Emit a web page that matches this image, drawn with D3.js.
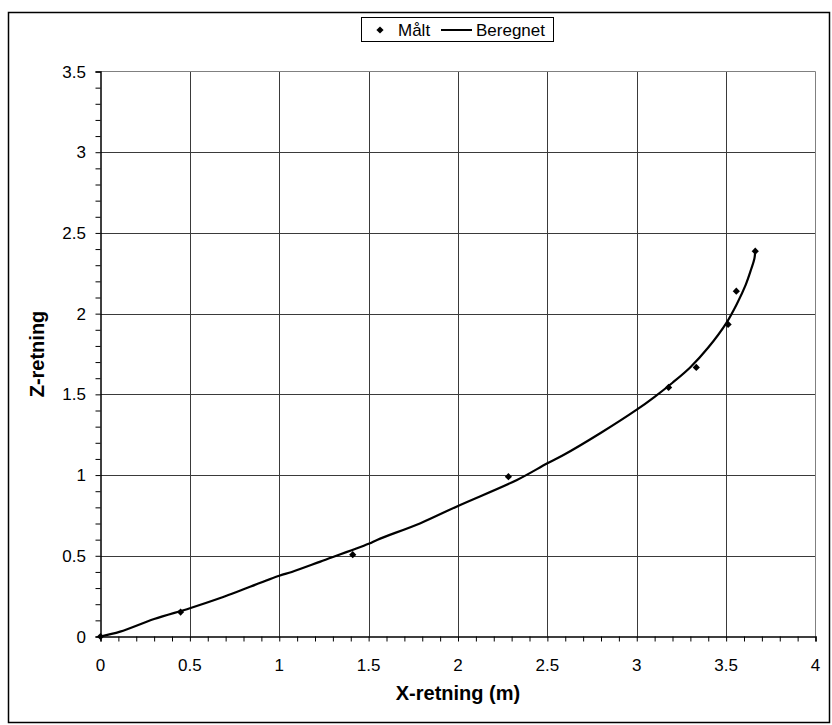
<!DOCTYPE html>
<html>
<head>
<meta charset="utf-8">
<script src="https://cdn.jsdelivr.net/npm/d3@7"></script>
<style>
  html, body { margin: 0; padding: 0; background: #fff; }
  svg { display: block; font-family: Arial, "Liberation Sans", sans-serif; }
</style>
</head>
<body>
<svg id="chart" width="832" height="725"></svg>
<script>
// ---- Data ----
const measuredX = [0, 0.448, 1.411, 2.282, 3.178, 3.333, 3.511, 3.557, 3.663];
const measuredZ = [0, 0.151, 0.507, 0.990, 1.543, 1.667, 1.933, 2.139, 2.387];

const computedX = [0, 0.11, 0.30, 0.50, 0.67, 1.00, 1.07, 1.23, 1.50, 1.55, 1.79, 2.00, 2.33, 2.50, 2.59, 2.80, 3.00, 3.10, 3.20, 3.30, 3.40, 3.50, 3.56, 3.61, 3.64, 3.658, 3.663];
const computedZ = [0, 0.03, 0.108, 0.175, 0.238, 0.376, 0.40, 0.464, 0.574, 0.60, 0.702, 0.809, 0.970, 1.073, 1.124, 1.262, 1.405, 1.485, 1.572, 1.668, 1.790, 1.940, 2.060, 2.180, 2.275, 2.34, 2.39];

const xTicks = [0, 0.5, 1, 1.5, 2, 2.5, 3, 3.5, 4];
const yTicks = [0, 0.5, 1, 1.5, 2, 2.5, 3, 3.5];
const xTickLabels = ["0", "0.5", "1", "1.5", "2", "2.5", "3", "3.5", "4"];
const yTickLabels = ["0", "0.5", "1", "1.5", "2", "2.5", "3", "3.5"];
const seriesNames = ["Målt", "Beregnet"];
const xTitle = "X-retning (m)";
const yTitle = "Z-retning";

// ---- Layout ----
const svg = d3.select("#chart");
const x = d3.scaleLinear().domain([0, 4]).range([100.5, 815.5]);
const y = d3.scaleLinear().domain([0, 3.5]).range([636.5, 71.5]);

// outer border
svg.append("rect").attr("x", 8.5).attr("y", 12.5).attr("width", 821).attr("height", 710)
  .attr("fill", "none").attr("stroke", "#000").attr("stroke-width", 1.5);

// gridlines
const grid = svg.append("g");
grid.selectAll("line.v").data(xTicks.slice(1, -1)).join("line")
  .attr("x1", d => Math.round(x(d)) + 0.5).attr("x2", d => Math.round(x(d)) + 0.5)
  .attr("y1", y(3.5)).attr("y2", y(0))
  .attr("stroke", "#3a3a3a").attr("stroke-width", 1);
grid.selectAll("line.h").data(yTicks.slice(1, -1)).join("line")
  .attr("y1", d => Math.round(y(d)) + 0.5).attr("y2", d => Math.round(y(d)) + 0.5)
  .attr("x1", x(0)).attr("x2", x(4))
  .attr("stroke", "#3a3a3a").attr("stroke-width", 1);

// plot area border (top & right gray)
svg.append("line").attr("x1", x(0)).attr("x2", x(4)).attr("y1", y(3.5)).attr("y2", y(3.5))
  .attr("stroke", "#808080");
svg.append("line").attr("x1", x(4)).attr("x2", x(4)).attr("y1", y(3.5)).attr("y2", y(0))
  .attr("stroke", "#808080");

// minor ticks
const xMinor = d3.range(0, 41).map(i => i / 10);
const yMinor = d3.range(0, 36).map(i => i / 10);

const xAxis = d3.axisBottom(x).tickValues(xMinor).tickSize(5).tickFormat("");
const gx = svg.append("g").attr("transform", `translate(0,${y(0)})`).call(xAxis);
gx.select(".domain").attr("stroke", "#000").attr("stroke-width", 1.5);
gx.selectAll(".tick line").attr("stroke", "#000");

const yAxis = d3.axisLeft(y).tickValues(yMinor).tickSize(5).tickFormat("");
const gy = svg.append("g").attr("transform", `translate(${x(0)},0)`).call(yAxis);
gy.select(".domain").attr("stroke", "#000").attr("stroke-width", 1.5);
gy.selectAll(".tick line").attr("stroke", "#000");

// major tick labels
svg.append("g").selectAll("text").data(xTicks).join("text")
  .attr("x", d => x(d)).attr("y", 671)
  .attr("text-anchor", "middle").attr("font-size", 17).attr("fill", "#000")
  .text((d, i) => xTickLabels[i]);
svg.append("g").selectAll("text").data(yTicks).join("text")
  .attr("x", 86).attr("y", d => y(d) + 6)
  .attr("text-anchor", "end").attr("font-size", 17).attr("fill", "#000")
  .text((d, i) => yTickLabels[i]);

// axis titles
svg.append("text").attr("x", (x(0) + x(4)) / 2).attr("y", 700)
  .attr("text-anchor", "middle").attr("font-size", 20).attr("font-weight", "bold")
  .text(xTitle);
svg.append("text").attr("transform", `translate(44,${(y(0) + y(3.5)) / 2}) rotate(-90)`)
  .attr("text-anchor", "middle").attr("font-size", 20).attr("font-weight", "bold")
  .text(yTitle);

// computed line
const lineData = computedX.map((v, i) => [v, computedZ[i]]);
const line = d3.line().x(d => x(d[0])).y(d => y(d[1])).curve(d3.curveCatmullRom.alpha(0.5));
svg.append("path").datum(lineData).attr("d", line)
  .attr("fill", "none").attr("stroke", "#000").attr("stroke-width", 2.2);

// measured points (diamonds)
const diamond = d3.symbol().type(d3.symbolSquare).size(26);
const ptsData = measuredX.map((v, i) => [v, measuredZ[i]]);
svg.append("g").selectAll("path").data(ptsData).join("path")
  .attr("d", diamond)
  .attr("transform", d => `translate(${x(d[0])},${y(d[1])}) rotate(45)`)
  .attr("fill", "#000");

// legend
const lg = svg.append("g");
lg.append("rect").attr("x", 361.5).attr("y", 17.5).attr("width", 192).attr("height", 24)
  .attr("fill", "#fff").attr("stroke", "#000").attr("stroke-width", 1);
lg.append("path").attr("d", diamond)
  .attr("transform", "translate(380,30) rotate(45)").attr("fill", "#000");
lg.append("text").attr("x", 398).attr("y", 36).attr("font-size", 17).text(seriesNames[0]);
lg.append("line").attr("x1", 441).attr("x2", 472).attr("y1", 30).attr("y2", 30)
  .attr("stroke", "#000").attr("stroke-width", 2);
lg.append("text").attr("x", 476).attr("y", 36).attr("font-size", 17).text(seriesNames[1]);
</script>
</body>
</html>
